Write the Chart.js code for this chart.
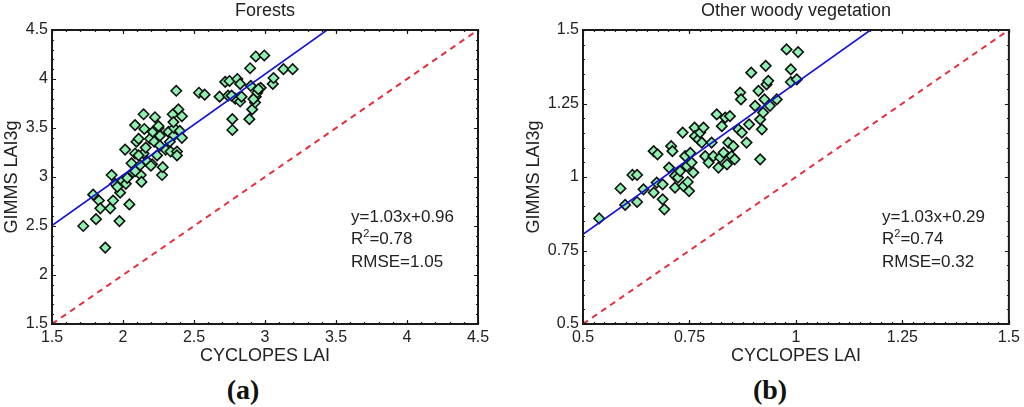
<!DOCTYPE html>
<html>
<head>
<meta charset="utf-8">
<script src="https://cdn.jsdelivr.net/npm/chart.js@4.4.1/dist/chart.umd.min.js"></script>
<style>
  html, body { margin: 0; padding: 0; background: #fff; }
  body { width: 1024px; height: 407px; position: relative; overflow: hidden; font-family: "Liberation Sans", Arial, sans-serif; color: #222; }
  .box { position: absolute; top: 0; width: 512px; height: 370px; }
  .ann { position: absolute; font-size: 17px; line-height: 22px; color: #222; white-space: nowrap; }
  .sup { position: relative; top: -7px; font-size: 11px; }
  .lab { position: absolute; width: 100px; text-align: center; font-family: "Liberation Serif", "Times New Roman", serif; font-weight: bold; font-size: 28px; line-height: 30px; color: #111; }
</style>
</head>
<body>
<div class="box" style="left:0"><canvas id="cA" width="512" height="370"></canvas></div>
<div class="box" style="left:512px"><canvas id="cB" width="512" height="370"></canvas></div>

<div class="ann" style="left:351px; top:206px">y=1.03x+0.96<br>R<span class="sup">2</span>=0.78<br>RMSE=1.05</div>
<div class="ann" style="left:882px; top:206px">y=1.03x+0.29<br>R<span class="sup">2</span>=0.74<br>RMSE=0.32</div>
<div class="lab" style="left:193px; top:375px">(a)</div>
<div class="lab" style="left:720px; top:375px">(b)</div>

<script>
// ---------- Data ----------
const titleA = "Forests";
const titleB = "Other woody vegetation";
const xTitle = "CYCLOPES LAI";
const yTitle = "GIMMS LAI3g";

const ticksA = [1.5, 2, 2.5, 3, 3.5, 4, 4.5];
const ticksB = [0.5, 0.75, 1, 1.25, 1.5];

// Forests: CYCLOPES LAI (x) vs GIMMS LAI3g (y)
const forestX = [1.72,1.79,1.81,1.83,1.84,1.875,1.91,1.92,1.93,1.945,1.975,1.98,1.995,2.015,2.02,2.045,2.06,2.07,2.085,2.085,
  2.095,2.11,2.12,2.125,2.13,2.145,2.15,2.145,2.17,2.19,2.205,2.21,2.22,2.225,2.24,2.25,2.26,2.275,2.28,2.30,
  2.32,2.335,2.35,2.355,2.36,2.375,2.38,2.38,2.39,2.40,2.415,2.415,2.535,2.575,2.68,2.72,2.75,2.74,2.77,2.77,
  2.79,2.805,2.825,2.825,2.835,2.89,2.895,2.90,2.91,2.93,2.935,2.935,2.945,2.97,2.995,3.055,3.06,3.13,3.195,
  2.086,2.11,2.196,2.25,2.26,2.355,2.03,1.96,2.16,2.33,2.765,2.918,2.953];
const forestY = [2.50,2.82,2.57,2.76,2.68,2.28,2.68,3.02,2.76,2.93,2.55,2.84,2.96,3.28,2.93,2.72,3.14,3.05,3.53,3.24,
  3.36,3.39,3.12,3.02,2.95,3.64,3.49,3.24,3.16,3.39,3.13,3.46,3.36,3.61,3.22,3.50,3.42,3.02,3.10,3.28,
  3.46,3.26,3.64,3.42,3.50,3.88,3.26,3.22,3.69,3.47,3.62,3.40,3.86,3.84,3.82,3.97,3.98,3.83,3.59,3.48,
  3.80,4.00,3.77,3.95,3.82,3.59,4.11,3.93,3.69,3.76,4.23,3.82,3.86,3.91,4.24,3.95,4.01,4.10,4.10,
  3.06,3.22,3.115,3.52,3.32,3.56,2.99,2.90,3.30,3.36,3.83,3.795,3.896];

// Other woody vegetation
const woodyX = [0.538,0.588,0.599,0.616,0.627,0.627,0.642,0.666,0.666,0.675,0.673,0.687,0.687,0.691,0.702,0.707,0.710,0.716,0.716,0.723,
  0.728,0.734,0.736,0.740,0.744,0.746,0.749,0.752,0.755,0.759,0.762,0.763,0.771,0.775,0.779,0.783,0.787,0.795,0.802,0.806,
  0.814,0.818,0.822,0.826,0.830,0.834,0.838,0.841,0.845,0.849,0.853,0.856,0.865,0.869,0.871,0.873,0.884,0.890,0.895,0.904,
  0.912,0.916,0.916,0.920,0.923,0.926,0.929,0.931,0.935,0.939,0.955,0.978,0.988,0.988,1.002,1.005];
const woodyY = [0.859,0.961,0.905,1.007,1.007,0.915,0.958,0.947,1.088,1.077,0.981,0.975,0.924,0.890,1.032,1.105,1.088,1.004,0.964,0.998,
  1.020,1.151,0.969,1.071,1.037,0.983,0.952,1.082,1.049,1.015,1.168,1.139,1.128,1.151,1.117,1.168,1.071,1.049,1.117,1.071,
  1.213,1.032,1.066,1.173,1.083,1.202,1.043,1.117,1.207,1.071,1.105,1.060,1.162,1.287,1.264,1.151,1.117,1.179,1.355,1.242,
  1.293,1.196,1.060,1.162,1.219,1.264,1.378,1.315,1.327,1.242,1.264,1.434,1.366,1.323,1.332,1.425];

// Regression lines (from the stated fits) and 1:1 lines, endpoints at the axis limits
const fitAx = [1.5, 3.437], fitAy = [2.505, 4.5];
const oneAx = [1.5, 4.5],   oneAy = [1.5, 4.5];
const fitBx = [0.5, 1.175], fitBy = [0.805, 1.5];
const oneBx = [0.5, 1.5],   oneBy = [0.5, 1.5];

// ---------- Helpers ----------
const pts = (xs, ys) => xs.map((x, i) => ({x, y: ys[i]}));
Chart.defaults.font.family = '"Liberation Sans", Arial, sans-serif';
Chart.defaults.color = '#222';

const framePlugin = {
  id: 'frame',
  afterDatasetsDraw(chart, args, opts) {
    const {ctx, chartArea: a, scales: {x, y}} = chart;
    ctx.save();
    ctx.strokeStyle = '#1a1a1a';
    ctx.lineWidth = 1.2;
    const tick = (v, sc, len) => {
      const p = Math.round(sc.getPixelForValue(v)) + 0.5;
      ctx.beginPath();
      if (sc.isHorizontal()) {
        ctx.moveTo(p, a.bottom); ctx.lineTo(p, a.bottom - len);
        ctx.moveTo(p, a.top); ctx.lineTo(p, a.top + len);
      } else {
        ctx.moveTo(a.left, p); ctx.lineTo(a.left + len, p);
        ctx.moveTo(a.right, p); ctx.lineTo(a.right - len, p);
      }
      ctx.stroke();
    };
    const n = (lo, hi, st) => { const r = []; const k = Math.round((hi - lo) / st); for (let i = 0; i <= k; i++) r.push(lo + i * st); return r; };
    n(x.min, x.max, opts.minorX).forEach(v => tick(v, x, 2));
    n(y.min, y.max, opts.minorY).forEach(v => tick(v, y, 2));
    x.ticks.forEach(t => tick(t.value, x, 4));
    y.ticks.forEach(t => tick(t.value, y, 4));
    ctx.lineWidth = 2;
    ctx.strokeRect(a.left, a.top, a.right - a.left, a.bottom - a.top);
    ctx.restore();
  }
};

function makeChart(id, cfg) {
  return new Chart(document.getElementById(id), {
    type: 'scatter',
    data: {
      datasets: [
        { type: 'line', data: pts(cfg.fitX, cfg.fitY), borderColor: '#1414d8', borderWidth: 1.6, pointRadius: 0, fill: false },
        { type: 'line', data: pts(cfg.oneX, cfg.oneY), borderColor: '#e4303c', borderWidth: 2, borderDash: [6, 5], pointRadius: 0, fill: false },
        { data: pts(cfg.xs, cfg.ys), pointStyle: 'rectRot', pointRadius: 5.2, borderWidth: 1.6,
          borderColor: '#111', backgroundColor: '#8ff0b0' }
      ]
    },
    options: {
      responsive: false,
      animation: false,
      layout: { padding: { left: 0, right: cfg.padRight, top: 0, bottom: 0 } },
      plugins: {
        legend: { display: false },
        tooltip: { enabled: false },
        title: { display: true, text: cfg.title, fullSize: false, color: '#222',
          font: { size: 18, weight: 'normal' }, padding: { top: 0.2, bottom: 8.2 } },
        frame: { minorX: cfg.minorX, minorY: cfg.minorY }
      },
      scales: {
        x: {
          type: 'linear', min: cfg.ticks[0], max: cfg.ticks[cfg.ticks.length - 1],
          afterBuildTicks: s => { s.ticks = cfg.ticks.map(v => ({value: v})); },
          afterFit: s => { s.height = 46; },
          grid: { display: false, drawTicks: false },
          border: { display: false },
          ticks: { autoSkip: false, maxRotation: 0, padding: 4, color: '#222', font: { size: 16 },
            callback: v => String(v) },
          title: { display: true, text: xTitle, color: '#222', font: { size: 18 }, padding: { top: 0, bottom: 3.2 } }
        },
        y: {
          type: 'linear', min: cfg.ticks[0], max: cfg.ticks[cfg.ticks.length - 1],
          afterBuildTicks: s => { s.ticks = cfg.ticks.map(v => ({value: v})); },
          afterFit: s => { s.width = cfg.yWidth; },
          grid: { display: false, drawTicks: false },
          border: { display: false },
          ticks: { autoSkip: false, padding: 4, color: '#222', font: { size: 16 },
            callback: v => String(v) },
          title: { display: true, text: yTitle, color: '#222', font: { size: 18 }, padding: { top: cfg.yTitlePad, bottom: 0 } }
        }
      }
    },
    plugins: [framePlugin]
  });
}

makeChart('cA', { title: titleA, xs: forestX, ys: forestY, fitX: fitAx, fitY: fitAy, oneX: oneAx, oneY: oneAy,
  ticks: ticksA, minorX: 0.1, minorY: 0.1, yWidth: 52, padRight: 34, yTitlePad: 1 });
makeChart('cB', { title: titleB, xs: woodyX, ys: woodyY, fitX: fitBx, fitY: fitBy, oneX: oneBx, oneY: oneBy,
  ticks: ticksB, minorX: 0.025, minorY: 0.05, yWidth: 71, padRight: 14, yTitlePad: 11 });
</script>
</body>
</html>
